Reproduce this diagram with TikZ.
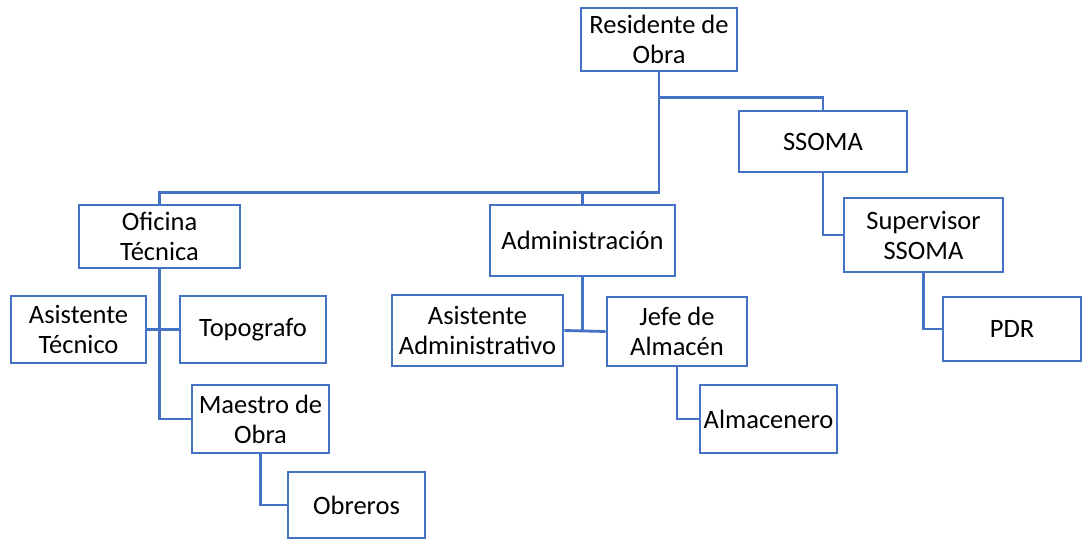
\documentclass[tikz,border=0pt]{standalone}
\usepackage{fontspec}
\setmainfont{Carlito}
\usepackage{tikz}
\definecolor{orgblue}{HTML}{4472C4}

\begin{document}
\begin{tikzpicture}[x=1pt, y=-1pt,
    box/.style={draw=orgblue, line width=2.7pt, fill=white, align=center,
                inner sep=0pt, font=\fontsize{26.5}{30}\selectfont},
    link/.style={draw=orgblue, line width=2.8pt}]
      \useasboundingbox (0,0) rectangle (1082,540);

      \node [box, minimum width=156, minimum height=63] (res) at (659,39.5)   {Residente de\\Obra};
      \node [box, minimum width=168, minimum height=61] (sso) at (823,141.5)  {SSOMA};
      \node [box, minimum width=161, minimum height=63] (ofi) at (159.5,236.5) {Oficina\\Técnica};
      \node [box, minimum width=185, minimum height=71] (adm) at (582.5,240.5) {Administración};
      \node [box, minimum width=159, minimum height=74] (sup) at (923.5,235)  {Supervisor\\SSOMA};

      \node [box, minimum width=135, minimum height=67] (asi) at (78.5,329.5)  {Asistente\\Técnico};
      \node [box, minimum width=146, minimum height=67] (top) at (253,329.5)   {Topografo};
      \node [box, minimum width=171, minimum height=71] (asa) at (477.5,330.5) {Asistente\\Administrativo};
      \node [box, minimum width=140, minimum height=69] (jef) at (677,331.5)   {Jefe de\\Almacén};
      \node [box, minimum width=138, minimum height=64] (pdr) at (1012,329)    {PDR};

      \node [box, minimum width=137, minimum height=68] (mae) at (260.5,419)   {Maestro de\\Obra};
      \node [box, minimum width=137, minimum height=68] (alm) at (768.5,419)   {Almacenero};
      \node [box, minimum width=137, minimum height=66] (obr) at (356.5,505)   {Obreros};

      \draw [link] (res.south) -- ++(0,120) -| (ofi.north);
      \draw [link] (res.south) -- ++(0,120) -| (adm.north);
      \draw [link] (res.south) -- ++(0,25)  -| (sso.north);
      \draw [link] (sso.south) |- (sup.west);
      \draw [link] (sup.south) |- (pdr.west);

      \draw [link] (ofi.south) |- (mae.west);
      \draw [link] (asi.east) -- (top.west);
      \draw [link] (mae.south) |- (obr.west);

      \draw [link] (adm.south) -- (adm.south |- asa.east);
      \draw [link] (asa.east) -- (jef.west);
      \draw [link] (jef.south) |- (alm.west);
    \end{tikzpicture}
\end{document}
